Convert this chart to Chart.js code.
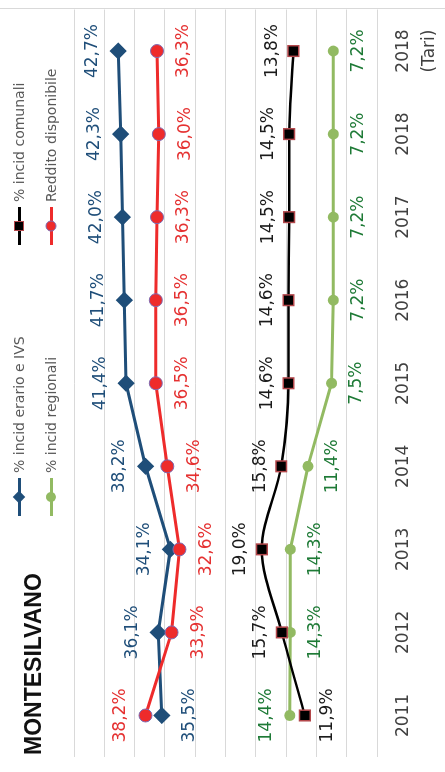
<!DOCTYPE html>
<html>
<head>
<meta charset="utf-8">
<script src="https://cdn.jsdelivr.net/npm/chart.js@4/dist/chart.umd.min.js"></script>
<style>
  html, body { margin: 0; padding: 0; background: #fff; overflow: hidden; }
  /* chart is laid out landscape, then turned a quarter to the left */
  #wrap {
    position: absolute; left: 0; top: 0;
    width: 772px; height: 445px;
    transform-origin: 0 0;
    transform: translateY(772px) rotate(-90deg);
  }
  #c { position: absolute; left: 0; top: 0; }
  #title {
    position: absolute; left: 17px; top: 22px;
    font: bold 23px/23px "Liberation Sans", Arial, sans-serif;
    color: #111;
  }
  #edge { position: absolute; left: 763px; top: 0; width: 1px; height: 445px; background: #d9d9d9; }
  .leg {
    position: absolute; height: 20px;
    display: flex; align-items: center;
    font: 14px "DejaVu Sans", sans-serif; color: #595959; white-space: nowrap;
  }
  .sym { position: relative; width: 38px; height: 16px; margin-right: 5px; }
  .sym .ln { position: absolute; left: 0; right: 0; top: 50%; height: 3px; margin-top: -1.5px; }
  .sym .mk { position: absolute; left: 50%; top: 50%; box-sizing: border-box; transform: translate(-50%, -50%); }
</style>
</head>
<body>
<div id="wrap">
  <canvas id="c" width="772" height="445"></canvas>
  <div id="edge"></div>
  <div id="title">MONTESILVANO</div>

  <div class="leg" style="left:256px; top:9px;">
    <div class="sym"><div class="ln" style="background:#1f4e79"></div>
      <div class="mk" style="width:9px;height:9px;background:#1f4e79;transform:translate(-50%,-50%) rotate(45deg)"></div></div>
    <span>% incid erario e IVS</span>
  </div>
  <div class="leg" style="left:256px; top:41px;">
    <div class="sym"><div class="ln" style="background:#92ba62"></div>
      <div class="mk" style="width:10px;height:10px;border-radius:50%;background:#92ba62"></div></div>
    <span>% incid regionali</span>
  </div>
  <div class="leg" style="left:527px; top:9px;">
    <div class="sym"><div class="ln" style="background:#000"></div>
      <div class="mk" style="width:10px;height:10px;background:#000;border:1px solid #b3474b"></div></div>
    <span>% incid comunali</span>
  </div>
  <div class="leg" style="left:527px; top:41px;">
    <div class="sym"><div class="ln" style="background:#ee2b2b"></div>
      <div class="mk" style="width:11px;height:11px;border-radius:50%;background:#ee2b2b;border:1px solid #7d6bb3"></div></div>
    <span>Reddito disponibile</span>
  </div>
</div>

<script>
// categories and values
const years = ["2011", "2012", "2013", "2014", "2015", "2016", "2017", "2018", ["2018", "(Tari)"]];
const erario = [35.5, 36.1, 34.1, 38.2, 41.4, 41.7, 42.0, 42.3, 42.7];
const regionali = [14.4, 14.3, 14.3, 11.4, 7.5, 7.2, 7.2, 7.2, 7.2];
const comunali = [11.9, 15.7, 19.0, 15.8, 14.6, 14.6, 14.5, 14.5, 13.8];
const reddito = [38.2, 33.9, 32.6, 34.6, 36.5, 36.5, 36.3, 36.0, 36.3];

// value labels: negative offset = above the point, first year is flipped
const valueLabels = {
  id: "valueLabels",
  afterDatasetsDraw(chart) {
    const ctx = chart.ctx;
    ctx.save();
    ctx.font = '17px "DejaVu Sans"';
    ctx.textAlign = "center";
    ctx.textBaseline = "middle";
    chart.data.datasets.forEach((ds, i) => {
      const meta = chart.getDatasetMeta(i);
      meta.data.forEach((pt, j) => {
        const off = j === 0 ? -ds.labelOffset : ds.labelOffset;
        ctx.fillStyle = ds.labelColor;
        ctx.fillText(ds.data[j].toFixed(1).replace(".", ",") + "%", pt.x, pt.y + off + 1);
      });
    });
    ctx.restore();
  }
};

new Chart(document.getElementById("c"), {
  type: "line",
  data: {
    labels: years,
    datasets: [
      {
        label: "% incid erario e IVS", data: erario, order: 3,
        borderColor: "#1f4e79", borderWidth: 3,
        pointStyle: "rectRot", pointRadius: 6.5,
        pointBackgroundColor: "#1f4e79", pointBorderColor: "#1f4e79",
        labelColor: "#1f4e79", labelOffset: -27
      },
      {
        label: "% incid regionali", data: regionali, order: 2,
        borderColor: "#92ba62", borderWidth: 3,
        pointStyle: "circle", pointRadius: 4,
        pointBackgroundColor: "#92ba62", pointBorderColor: "#92ba62",
        labelColor: "#1e7a36", labelOffset: 24
      },
      {
        label: "% incid comunali", data: comunali, order: 1,
        borderColor: "#000", borderWidth: 2.5, cubicInterpolationMode: "monotone",
        pointStyle: "rect", pointRadius: 7.5, pointBorderWidth: 1.5,
        pointBackgroundColor: "#000", pointBorderColor: "#b3474b",
        labelColor: "#1a1a1a", labelOffset: -22
      },
      {
        label: "Reddito disponibile", data: reddito, order: 0,
        borderColor: "#ee2b2b", borderWidth: 3,
        pointStyle: "circle", pointRadius: 6.5, pointBorderWidth: 1,
        pointBackgroundColor: "#ee2b2b", pointBorderColor: "#7d6bb3",
        labelColor: "#e53131", labelOffset: 26
      }
    ]
  },
  options: {
    responsive: false,
    animation: false,
    layout: { padding: { left: 15, right: 8, top: 74, bottom: 0 } },
    plugins: { legend: { display: false }, tooltip: { enabled: false } },
    scales: {
      x: {
        offset: true,
        grid: { display: false },
        border: { display: false },
        ticks: {
          color: "#404040", padding: 5, maxRotation: 0, autoSkip: false,
          font: { family: "DejaVu Sans", size: 17, lineHeight: 1.55 }
        },
        afterFit(s) { s.height = 68; }
      },
      y: {
        min: 0, max: 50,
        ticks: { display: false, stepSize: 5 },
        grid: { color: "#d9d9d9", lineWidth: 1, drawTicks: false },
        border: { display: false },
        afterFit(s) { s.width = 0; }
      }
    }
  },
  plugins: [valueLabels]
});
</script>
</body>
</html>
